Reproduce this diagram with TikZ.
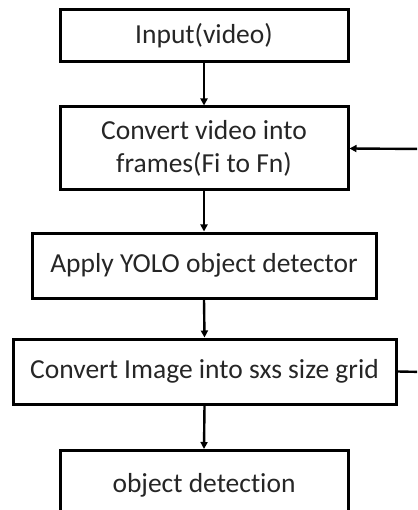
\documentclass[tikz,border=0pt]{standalone}
\usepackage{fontspec}
\setmainfont[Ligatures=NoCommon]{Carlito}
\usetikzlibrary{arrows.meta}
\begin{document}
\begin{tikzpicture}[x=1pt,y=-1pt,
  procbox/.style={draw=black, line width=3pt, fill=white, text=black!85, inner sep=0pt, align=center,
    font=\fontsize{27.5}{33}\selectfont},
  flow/.style={line width=2.4pt, -{Triangle[length=7pt,width=7pt]}}]
\useasboundingbox (0,0) rectangle (417,510);
\clip (0,0) rectangle (417,510);
\node[procbox, minimum width=288pt, minimum height=52pt] (b1) at (204,36) {Input(video)};
\node[procbox, minimum width=288pt, minimum height=83pt] (b2) at (204,148.5) {Convert video into\\frames(Fi to Fn)};
\node[procbox, minimum width=344pt, minimum height=65pt] (b3) at (204,265.5) {Apply YOLO object detector};
\node[procbox, minimum width=383pt, minimum height=65pt] (b4) at (204.5,371.5) {Convert Image into sxs size grid};
\node[procbox, minimum width=288pt, minimum height=70pt, anchor=north] (b5) at (204,449) {object detection};
\coordinate (r1) at (425,372);
\coordinate (r2) at (425,149);
\draw[flow] (b1.south) -- (b2.north);
\draw[flow] (b2.south) -- (b3.north);
\draw[flow] (b3.south) -- (b4.north);
\draw[flow] (b4.south) -- (b5.north);
\draw[flow] (b4.east) -- (r1) -- (r2) -- (b2.east);
\end{tikzpicture}
\end{document}
